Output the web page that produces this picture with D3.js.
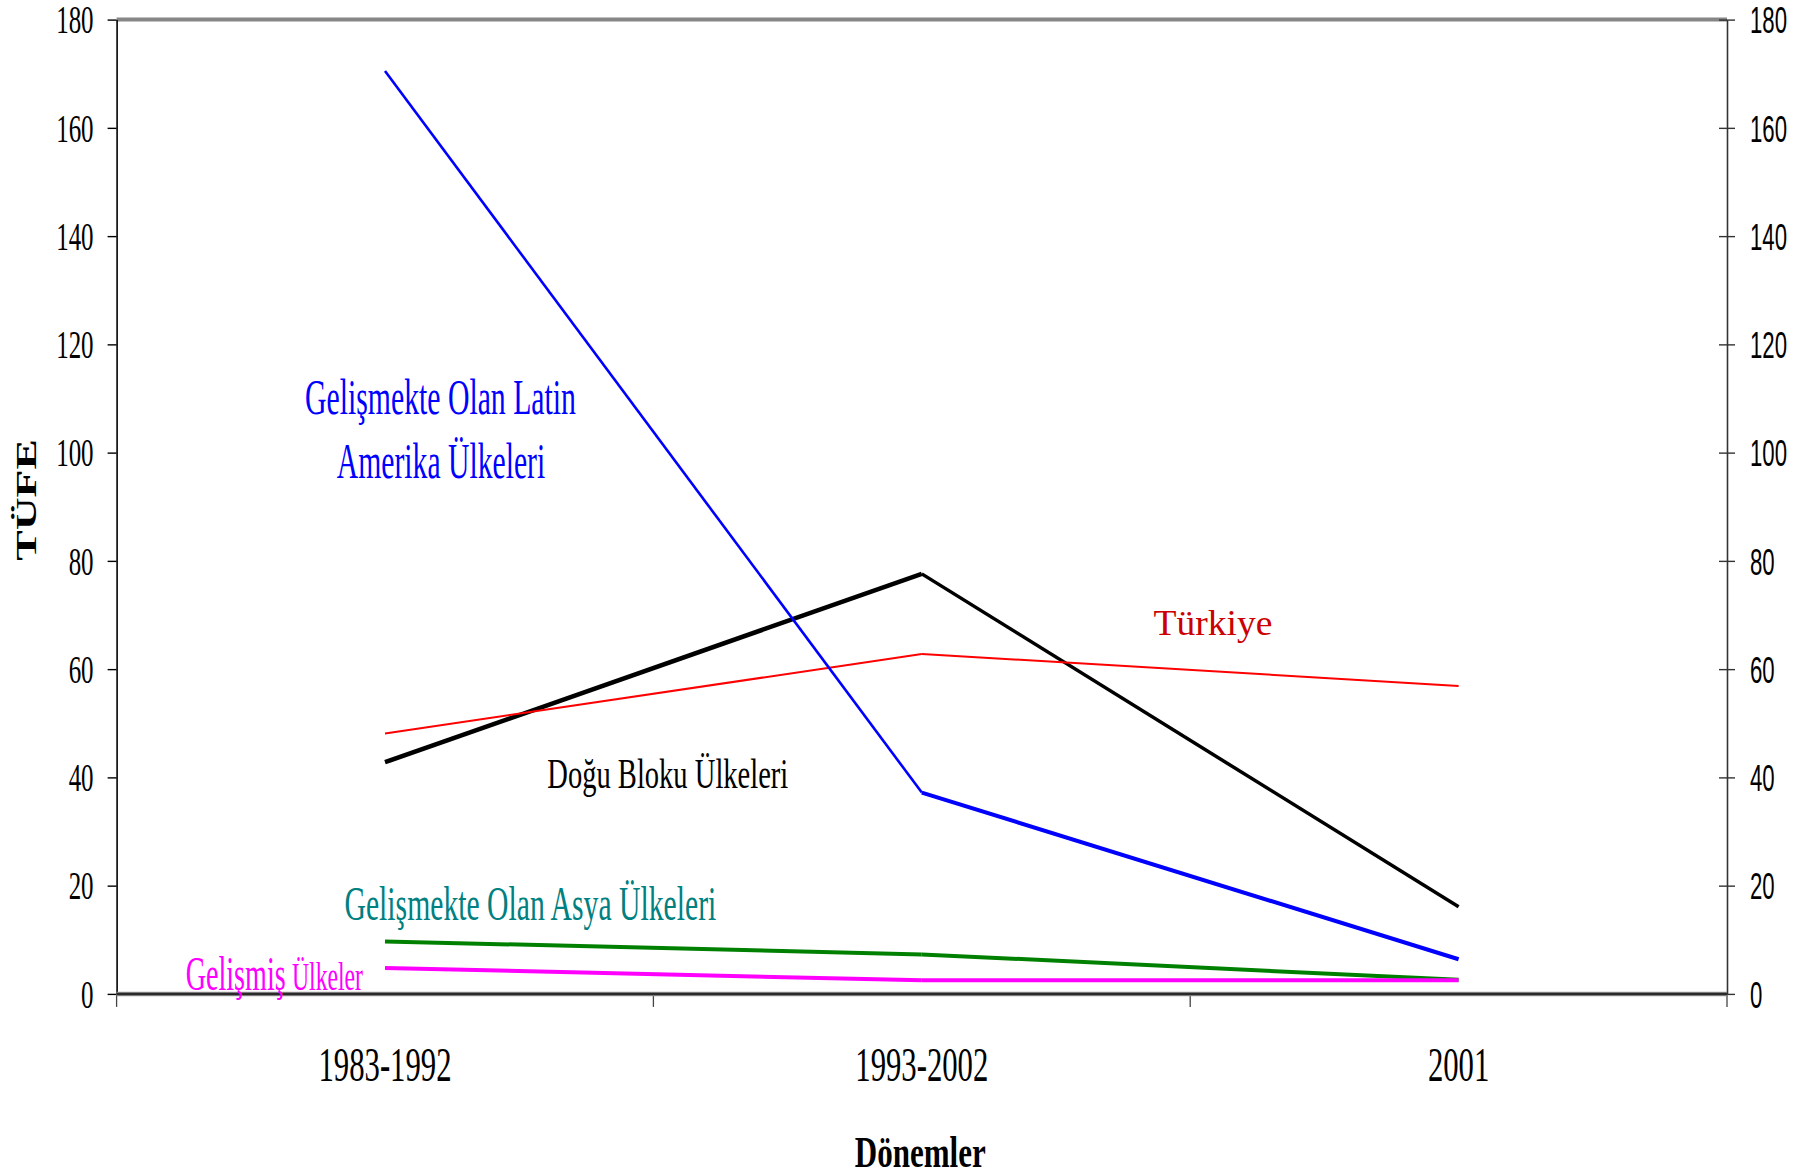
<!DOCTYPE html>
<html lang="tr">
<head>
    <meta charset="UTF-8">
    <title>TÜFE - Dönemler</title>
    <script src="https://d3js.org/d3.v7.min.js"></script>
    <style>
        body { margin: 0; background: #fff; }
        svg { display: block; }
    </style>
</head>
<body>

<div id="chart"></div>

<script>
    // values
    var periods   = ["1983-1992", "1993-2002", "2001"];
    var latin     = [170.5, 37.2, 6.4];
    var eastern   = [42.8, 77.6, 16.1];
    var turkey    = [48.1, 62.8, 56.9];
    var asia      = [9.7, 7.3, 2.6];
    var developed = [4.8, 2.5, 2.5];
    var yTicks    = [0, 20, 40, 60, 80, 100, 120, 140, 160, 180];

    var series = [
        {name: "Doğu Bloku Ülkeleri", values: eastern, color: "#000000", widths: [4.5, 3.5]},
        {name: "Türkiye", values: turkey, color: "#ff0000", widths: [2, 2]},
        {name: "Gelişmekte Olan Latin Amerika Ülkeleri", values: latin, color: "#0000ff", widths: [2.6, 4]},
        {name: "Gelişmekte Olan Asya Ülkeleri", values: asia, color: "#008000", widths: [4, 4]},
        {name: "Gelişmiş Ülkeler", values: developed, color: "#ff00ff", widths: [4, 4]}
    ];

    var W = 1810, H = 1176;
    var margin = {top: 19.6, right: 83, bottom: 182.1, left: 116.6},
        width = W - margin.left - margin.right,
        height = H - margin.top - margin.bottom;

    var serif = "'Liberation Serif', 'Times New Roman', serif";
    var sans = "'Liberation Sans', Arial, sans-serif";

    var svg = d3.select("#chart")
        .append("svg")
            .attr("width", W)
            .attr("height", H);

    var g = svg.append("g")
        .attr("transform", "translate(" + margin.left + "," + margin.top + ")");

    var x = d3.scaleBand()
        .domain(periods)
        .range([0, width]);
    var y = d3.scaleLinear()
        .domain([0, 180])
        .range([height, 0]);

    // top border
    g.append("line")
        .attr("x1", 0).attr("x2", width)
        .attr("y1", 0).attr("y2", 0)
        .attr("stroke", "#868686")
        .attr("stroke-width", 4);

    // left axis
    var leftAxis = g.append("g")
        .call(d3.axisLeft(y).tickValues(yTicks).tickSize(9).tickSizeOuter(0));
    leftAxis.select(".domain").attr("stroke", "#000").attr("stroke-width", 1.6);
    leftAxis.selectAll(".tick line").attr("stroke", "#000").attr("stroke-width", 1.4);
    leftAxis.selectAll(".tick text")
        .attr("x", 0)
        .attr("dy", "0.34em")
        .attr("transform", "translate(-23,0) scale(0.64,1)")
        .style("font-family", serif)
        .style("font-size", "39px")
        .attr("fill", "#000");

    // right axis
    var rightAxis = g.append("g")
        .attr("transform", "translate(" + width + ",0)")
        .call(d3.axisRight(y).tickValues(yTicks).tickSize(8).tickSizeOuter(0));
    rightAxis.select(".domain").attr("stroke", "#333").attr("stroke-width", 1.6);
    rightAxis.selectAll(".tick line").attr("x1", -8).attr("stroke", "#333").attr("stroke-width", 1.4);
    rightAxis.selectAll(".tick text")
        .attr("x", 0)
        .attr("dy", "0.36em")
        .attr("transform", "translate(23,0) scale(0.6,1)")
        .style("font-family", sans)
        .style("font-size", "37px")
        .attr("fill", "#000");

    // bottom axis: ticks sit between the periods
    var bounds = periods.map(function (d) { return x(d); }).concat([width]);
    var bottom = g.append("g").attr("transform", "translate(0," + height + ")");
    bottom.selectAll("line.tick")
        .data(bounds)
        .enter()
        .append("line")
            .attr("class", "tick")
            .attr("x1", function (d) { return d; })
            .attr("x2", function (d) { return d; })
            .attr("y1", 0).attr("y2", 13)
            .attr("stroke", "#444")
            .attr("stroke-width", 1.3);
    bottom.append("line")
        .attr("x1", 0).attr("x2", width)
        .attr("stroke", "#999")
        .attr("stroke-width", 4.5);
    bottom.append("line")
        .attr("x1", 0).attr("x2", width)
        .attr("stroke", "#2a2a2a")
        .attr("stroke-width", 2.5);

    bottom.selectAll("text.period")
        .data(periods)
        .enter()
        .append("text")
            .attr("class", "period")
            .attr("text-anchor", "middle")
            .attr("transform", function (d) {
                return "translate(" + (x(d) + x.bandwidth() / 2) + ",87) scale(0.64,1)";
            })
            .style("font-family", serif)
            .style("font-size", "48px")
            .text(function (d) { return d; });

    // lines, drawn segment by segment
    series.forEach(function (s) {
        var segs = d3.pairs(s.values.map(function (v, i) { return {p: periods[i], v: v}; }));
        g.selectAll(null)
            .data(segs)
            .enter()
            .append("line")
                .attr("x1", function (d) { return x(d[0].p) + x.bandwidth() / 2; })
                .attr("y1", function (d) { return y(d[0].v); })
                .attr("x2", function (d) { return x(d[1].p) + x.bandwidth() / 2; })
                .attr("y2", function (d) { return y(d[1].v); })
                .attr("stroke", s.color)
                .attr("stroke-width", function (d, i) { return s.widths[i]; })
                .attr("stroke-linecap", "butt");
    });

    // text labels: position is the anchor point, w is the wanted drawn width
    var labels = [
        {text: "Gelişmekte Olan Latin", x: 440.5, y: 413.6, size: 50, w: 271, color: "#0000ff", anchor: "middle"},
        {text: "Amerika Ülkeleri", x: 441, y: 478, size: 50, w: 208.5, color: "#0000ff", anchor: "middle"},
        {text: "Doğu Bloku Ülkeleri", x: 667.8, y: 787.7, size: 43, w: 241, color: "#000000", anchor: "middle"},
        {text: "Türkiye", x: 1213, y: 635, size: 36, w: 119, color: "#cc0000", anchor: "middle"},
        {text: "Gelişmekte Olan Asya Ülkeleri", x: 530.4, y: 920, size: 49, w: 372, color: "#008080", anchor: "middle"},
        {text: "Gelişmiş", x: 185.7, y: 990, size: 49, w: 100, color: "#ff00ff", anchor: "start"},
        {text: "Ülkeler", x: 292, y: 990, size: 39, w: 71, color: "#ff00ff", anchor: "start"},
        {text: "Dönemler", x: 920.3, y: 1166.7, size: 45, w: 131, color: "#000000", anchor: "middle", bold: true}
    ];

    labels.forEach(function (l) {
        var t = svg.append("text")
            .attr("text-anchor", l.anchor)
            .attr("fill", l.color)
            .style("font-family", serif)
            .style("font-size", l.size + "px")
            .style("font-weight", l.bold ? "bold" : "normal")
            .text(l.text);
        var k = l.w / t.node().getComputedTextLength();
        t.attr("transform", "translate(" + l.x + "," + l.y + ") scale(" + k + ",1)");
    });

    // y axis title, stretched along its length
    svg.append("text")
        .attr("text-anchor", "middle")
        .attr("transform", "translate(35.5,500) rotate(-90) scale(1.52,1)")
        .style("font-family", serif)
        .style("font-size", "30px")
        .style("font-weight", "bold")
        .text("TÜFE");
</script>

</body>
</html>
